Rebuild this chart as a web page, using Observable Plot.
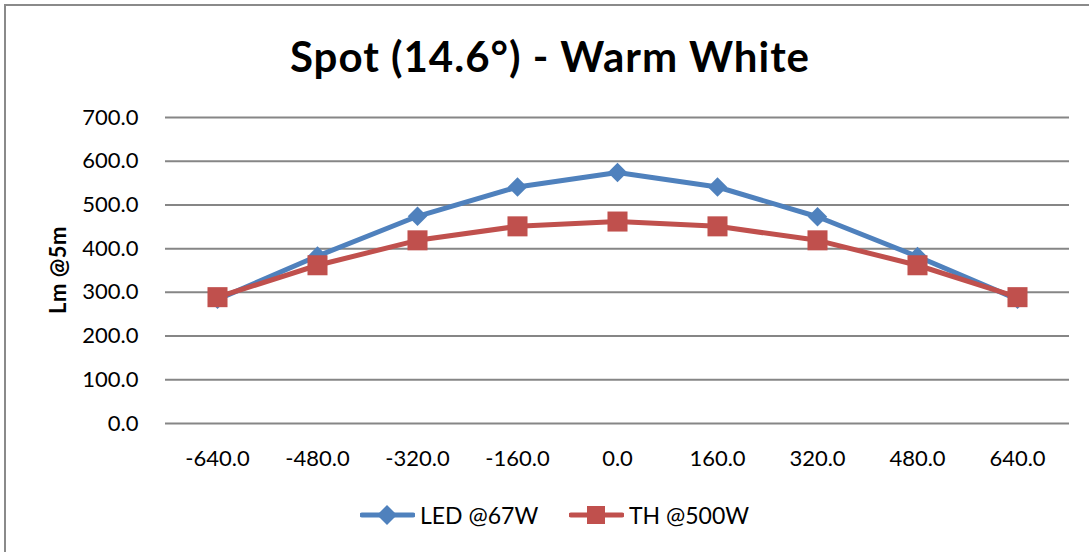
<!DOCTYPE html>
<html>
<head>
<meta charset="utf-8">
<script src="https://cdn.jsdelivr.net/npm/d3@7"></script>
<script src="https://cdn.jsdelivr.net/npm/@observablehq/plot@0.6"></script>
<style>
  html, body { margin: 0; padding: 0; background: #fff; }
  #wrap { position: relative; width: 1089px; height: 552px; overflow: hidden; font-family: Lato, "Open Sans", sans-serif; }
  #frame { position: absolute; left: 4px; top: 4px; width: 1100px; height: 600px; border: 2px solid #8a8a8a; box-sizing: border-box; }
  #title { position: absolute; left: 0; top: 32px; width: 1100px; text-align: center; font-size: 42px; letter-spacing: 1px; font-weight: bold; line-height: 48px; color: #000; }
  #chart { position: absolute; left: 0; top: 100px; }
  #ylabel { position: absolute; left: 57px; top: 270px; transform: translate(-50%, -50%) rotate(-90deg); font-size: 22px; font-weight: bold; letter-spacing: 0.5px; white-space: nowrap; color: #000; }
  #legend { position: absolute; top: 501px; left: 0; width: 1089px; height: 28px; font-size: 23px; color: #000; }
  .item { position: absolute; top: 0; display: flex; align-items: center; height: 28px; }
  .item svg { margin-right: 5px; }
</style>
</head>
<body>
<div id="wrap">
  <div id="frame"></div>
  <div id="title">Spot (14.6°) - Warm White</div>
  <div id="chart"></div>
  <div id="ylabel"></div>
  <div id="legend"></div>
</div>
<script>
const positions = [-640, -480, -320, -160, 0, 160, 320, 480, 640];
const ledValues = [284, 383, 474, 541, 574, 541, 473, 382, 284];
const thValues  = [289, 362, 419, 451, 462, 451, 419, 362, 289];
const yTicks = [0, 100, 200, 300, 400, 500, 600, 700];
const seriesNames = ["LED @67W", "TH @500W"];
const seriesColors = ["#4F81BD", "#C0504D"];
const yLabel = "Lm @5m";

document.getElementById("ylabel").textContent = yLabel;

const led = positions.map((p, i) => ({pos: p, value: ledValues[i]}));
const th = positions.map((p, i) => ({pos: p, value: thValues[i]}));
const fmt = d => d.toFixed(1);

const chart = Plot.plot({
  width: 1089,
  height: 390,
  marginLeft: 165,
  marginRight: 20,
  marginTop: 17,
  marginBottom: 67,
  style: {fontFamily: "Lato, 'Open Sans', sans-serif", fontSize: "22px", color: "#000", background: "transparent", overflow: "visible"},
  x: {type: "point", domain: positions, padding: 0.5},
  y: {domain: [0, 700]},
  marks: [
    Plot.ruleY(yTicks, {stroke: "#868686", strokeWidth: 2, strokeOpacity: 1}),
    Plot.axisY({ticks: yTicks, tickSize: 0, tickPadding: 27, tickFormat: fmt, label: null, fill: "#000", fontSize: 22}),
    Plot.axisX({tickSize: 0, tickPadding: 27, tickFormat: fmt, label: null, fill: "#000", fontSize: 22}),
    Plot.line(led, {x: "pos", y: "value", stroke: seriesColors[0], strokeWidth: 5}),
    Plot.dot(led, {x: "pos", y: "value", symbol: "diamond2", r: 8.8, fill: seriesColors[0], stroke: "none"}),
    Plot.line(th, {x: "pos", y: "value", stroke: seriesColors[1], strokeWidth: 5}),
    Plot.dot(th, {x: "pos", y: "value", symbol: "square", r: 11.3, fill: seriesColors[1], stroke: "none"})
  ]
});
document.getElementById("chart").appendChild(chart);

// legend
const legend = document.getElementById("legend");
const lefts = [360, 569];
seriesNames.forEach((name, i) => {
  const item = document.createElement("div");
  item.className = "item";
  item.style.left = lefts[i] + "px";
  const sym = i === 0
    ? `<polygon points="27,4 37,14 27,24 17,14" fill="${seriesColors[i]}"/>`
    : `<rect x="18" y="5" width="18" height="18" fill="${seriesColors[i]}"/>`;
  item.innerHTML = `<svg width="55" height="28"><line x1="2" x2="53" y1="14" y2="14" stroke="${seriesColors[i]}" stroke-width="5" stroke-linecap="round"/>${sym}</svg><span>${name}</span>`;
  legend.appendChild(item);
});
</script>
</body>
</html>
